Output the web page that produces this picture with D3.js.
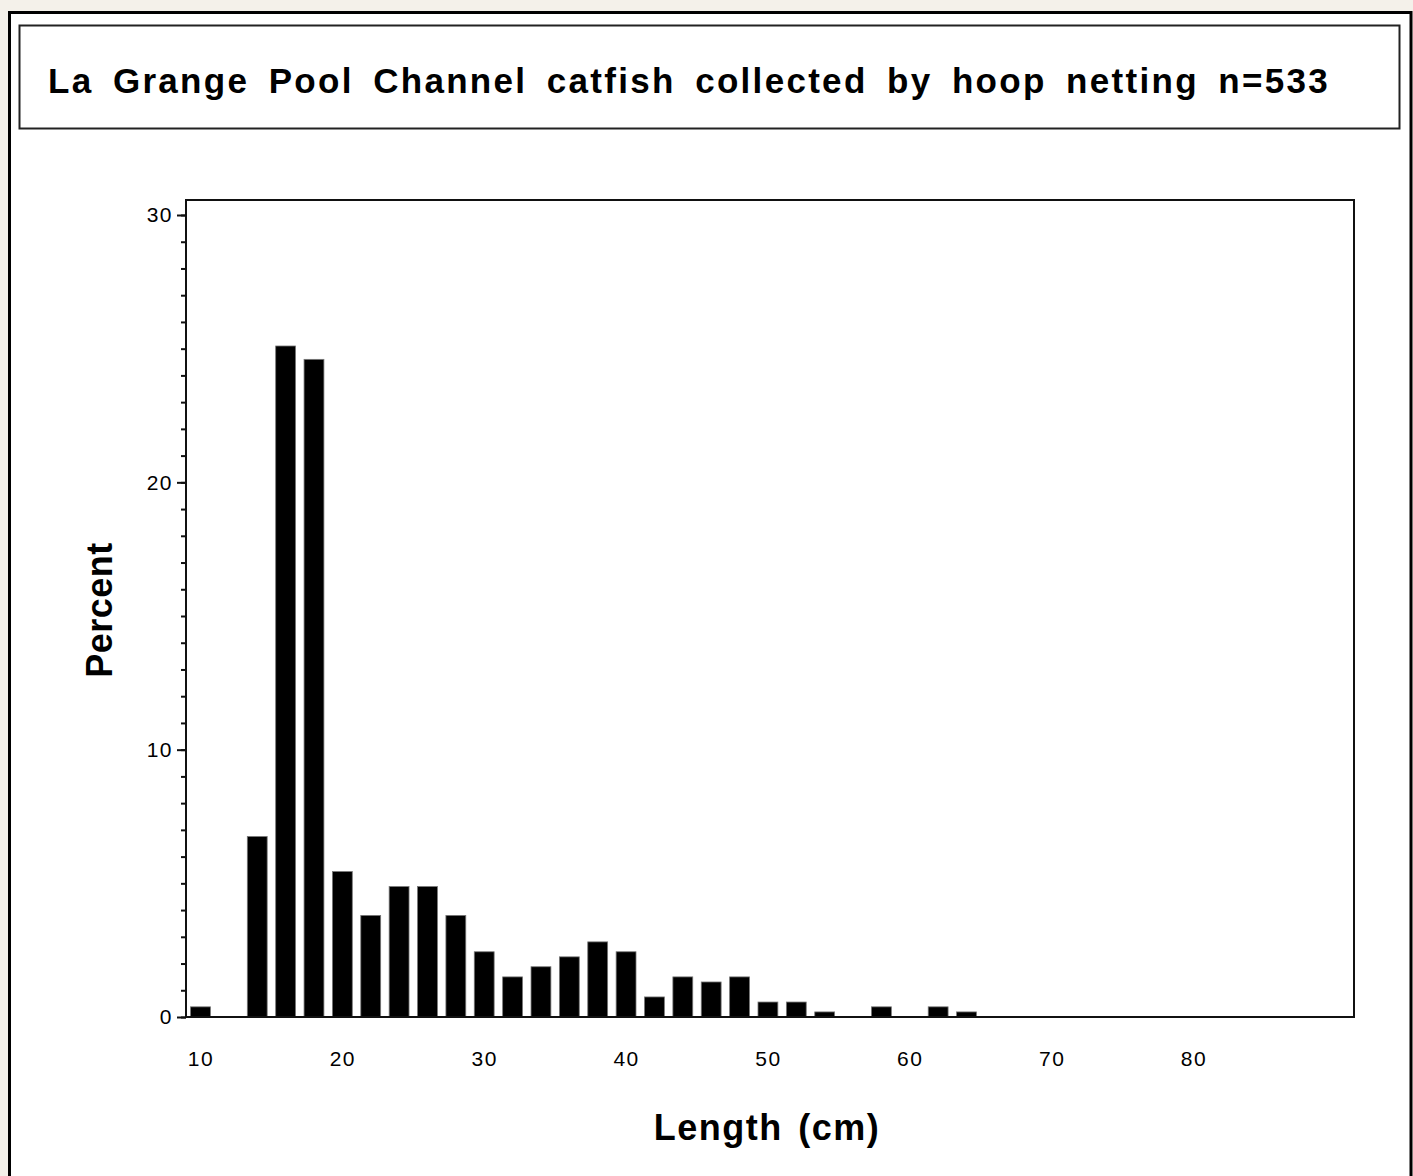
<!DOCTYPE html>
<html>
<head>
<meta charset="utf-8">
<script src="https://cdn.jsdelivr.net/npm/d3@7"></script>
<style>
  html, body { margin: 0; padding: 0; background: #f4f1ea; }
  svg { display: block; }
  text { font-family: "Liberation Sans", Arial, sans-serif; fill: #000; }
</style>
</head>
<body>
<script>
// ---- data ----
const titleText = "La Grange Pool Channel catfish collected by hoop netting n=533";
const xLabel = "Length (cm)";
const yLabel = "Percent";
const midpoints = [10,12,14,16,18,20,22,24,26,28,30,32,34,36,38,40,42,44,46,48,50,52,54,56,58,60,62,64];
const percents  = [0.38,0,6.75,25.1,24.6,5.44,3.8,4.88,4.88,3.8,2.44,1.5,1.88,2.25,2.81,2.44,0.75,1.5,1.31,1.5,0.56,0.56,0.19,0,0.38,0,0.38,0.19];
const xTickValues = [10,20,30,40,50,60,70,80];
const yMajorTicks = [0,10,20,30];
const yMinorTicks = d3.range(0, 31, 1);

const W = 1413, H = 1176;
const svg = d3.select("body").append("svg").attr("width", W).attr("height", H);

// outer page panel
svg.append("rect").attr("x", 9.5).attr("y", 12.5).attr("width", 1401.5).attr("height", 1200)
  .attr("fill", "#fff").attr("stroke", "#000").attr("stroke-width", 3);

// title box
svg.append("rect").attr("x", 19.5).attr("y", 25.5).attr("width", 1380).attr("height", 103)
  .attr("fill", "#fff").attr("stroke", "#222").attr("stroke-width", 2);
const t = svg.append("text").attr("x", 48).attr("y", 93)
  .attr("font-size", 35).attr("font-weight", "bold")
  .attr("letter-spacing", 2.3)
  .text(titleText);
{
  const targetW = 1282;
  const natural = t.node().getComputedTextLength();
  const nSpaces = (titleText.match(/ /g) || []).length;
  const extra = Math.max(0, (targetW - natural) / nSpaces);
  t.attr("word-spacing", extra);
}

// plot frame geometry
const L = 186, R = 1354, T = 200, B = 1017;

const x = d3.scaleLinear().domain([10, 80]).range([200.5, 1193.5]);
const y = d3.scaleLinear().domain([0, 30]).range([B, 215]);
const barW = (x(12) - x(10)) * 0.7;

// bars
svg.append("g").selectAll("rect").data(midpoints.map((m, i) => ({m, v: percents[i]})).filter(d => d.v > 0))
  .join("rect")
  .attr("x", d => x(d.m) - barW / 2)
  .attr("width", barW)
  .attr("y", d => y(d.v))
  .attr("height", d => B - y(d.v))
  .attr("fill", "#000")
  .attr("stroke", "#777").attr("stroke-width", 0.8);

// frame
svg.append("rect").attr("x", L).attr("y", T).attr("width", R - L).attr("height", B - T)
  .attr("fill", "none").attr("stroke", "#111").attr("stroke-width", 2);

// y axis minor ticks
const yMinor = svg.append("g").attr("transform", `translate(${L},0)`)
  .call(d3.axisLeft(y).tickValues(yMinorTicks).tickSize(5).tickFormat(""));
yMinor.select(".domain").remove();
yMinor.selectAll("line").attr("stroke", "#111").attr("stroke-width", 2);

// y axis major ticks
const yMajor = svg.append("g").attr("transform", `translate(${L},0)`)
  .call(d3.axisLeft(y).tickValues(yMajorTicks).tickSize(9).tickPadding(4).tickFormat(d3.format("d")));
yMajor.select(".domain").remove();
yMajor.selectAll("line").attr("stroke", "#111").attr("stroke-width", 2);
yMajor.selectAll("text").attr("font-size", 21).attr("font-family", "Liberation Sans, Arial, sans-serif")
  .attr("letter-spacing", 1.5).attr("fill", "#000");

// x axis labels (no tick marks)
const xAx = svg.append("g").attr("transform", `translate(0,${B})`)
  .call(d3.axisBottom(x).tickValues(xTickValues).tickSize(0).tickPadding(34).tickFormat(d3.format("d")));
xAx.select(".domain").remove();
xAx.selectAll("text").attr("font-size", 21).attr("font-family", "Liberation Sans, Arial, sans-serif")
  .attr("letter-spacing", 1.5).attr("fill", "#000");

// axis titles
svg.append("text").attr("x", 767).attr("y", 1140).attr("text-anchor", "middle")
  .attr("font-size", 36).attr("font-weight", "bold").attr("letter-spacing", 1.5).attr("word-spacing", 4)
  .text(xLabel);
svg.append("text").attr("transform", "translate(112,610) rotate(-90)").attr("text-anchor", "middle")
  .attr("font-size", 36).attr("font-weight", "bold").attr("letter-spacing", 0.5)
  .text(yLabel);
</script>
</body>
</html>
